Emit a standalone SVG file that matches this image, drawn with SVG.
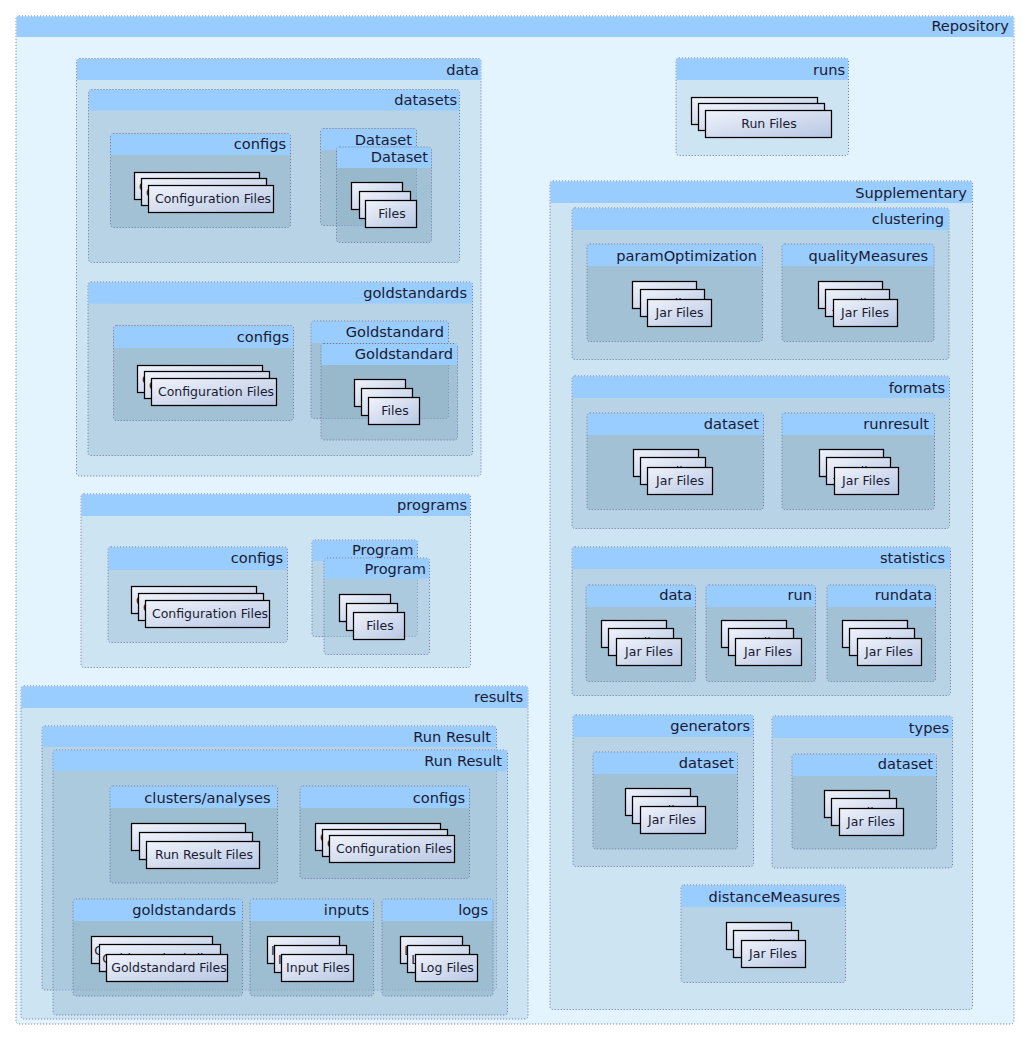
<svg xmlns="http://www.w3.org/2000/svg" width="1030" height="1040" viewBox="0 0 1030 1040">
<style>
.b{fill-opacity:.5;stroke:#6f6fa3;stroke-width:1;stroke-dasharray:1 2}
.r{fill:#e3f4ff;fill-opacity:1}
.d2{fill:#b7d4e7}
.d3{fill:#a1c2d7}
.d4{fill:#8dafc3}
.h{fill:#99ccff}
.l{font:14.6px "DejaVu Sans",sans-serif;fill:#1a1a30;text-anchor:end}
.a{fill:url(#g);stroke:#000;stroke-width:1.25}
.t{font:12.5px "DejaVu Sans",sans-serif;fill:#1a1a30;text-anchor:middle}
</style>
<defs><linearGradient id="g" x1="0" y1="0" x2="1" y2="1"><stop offset="0" stop-color="#f0f3fb"/><stop offset="1" stop-color="#b7c7e3"/></linearGradient></defs>
<rect width="1030" height="1040" fill="#fff"/>
<g id="Repository"><rect class="b r" x="16" y="16" width="998" height="1008" rx="3"/><rect class="h" x="16.5" y="16.5" width="997" height="20.5"/><text class="l" x="1009" y="31">Repository</text></g>

<g id="data"><rect class="b d2" x="76.5" y="58.5" width="404.5" height="417.5" rx="3"/><rect class="h" x="77" y="59" width="403.5" height="21"/><text class="l" x="479" y="75">data</text></g>
<g id="datasets"><rect class="b d3" x="88.5" y="89.5" width="371" height="173" rx="3"/><rect class="h" x="89" y="90" width="370" height="20.5"/><text class="l" x="457" y="105">datasets</text></g>
<g id="datasets-configs"><rect class="b d4" x="110.5" y="133.5" width="180" height="94" rx="3"/><rect class="h" x="111" y="134" width="179" height="21"/><text class="l" x="286" y="148.5">configs</text></g>
<g id="datasets-config-files">
<rect class="a" x="134.5" y="172.5" width="125" height="27"/><text class="t" x="197" y="190.5">Configuration Files</text>
<rect class="a" x="141.5" y="178.5" width="125" height="27"/><text class="t" x="204" y="196.5">Configuration Files</text>
<rect class="a" x="148.5" y="185.5" width="125" height="27"/><text class="t" x="213" y="203">Configuration Files</text></g>
<g id="dataset-back"><rect class="b d4" x="320.5" y="128.5" width="96" height="97" rx="3"/><rect class="h" x="321" y="129" width="95" height="21"/><text class="l" x="412" y="145">Dataset</text></g>
<g id="dataset-front"><rect class="b d4" x="336.5" y="147" width="95" height="95.5" rx="3"/><rect class="h" x="337" y="147.5" width="94" height="20.5"/><text class="l" x="428" y="162">Dataset</text></g>
<g id="dataset-files">
<rect class="a" x="351.5" y="182.5" width="51" height="27"/><text class="t" x="377" y="200.5">Files</text>
<rect class="a" x="359.5" y="191.5" width="51" height="27"/><text class="t" x="385" y="209.5">Files</text>
<rect class="a" x="365.5" y="200.5" width="51" height="27"/><text class="t" x="392" y="218">Files</text></g>

<g id="goldstandards"><rect class="b d3" x="88" y="282" width="384.5" height="173.5" rx="3"/><rect class="h" x="88.5" y="282.5" width="383.5" height="21"/><text class="l" x="467" y="298">goldstandards</text></g>
<g id="goldstandards-configs"><rect class="b d4" x="113.5" y="325.5" width="180" height="95" rx="3"/><rect class="h" x="114" y="326" width="179" height="22"/><text class="l" x="289" y="342">configs</text></g>
<g id="goldstandards-config-files">
<rect class="a" x="137.5" y="365.5" width="125" height="27"/><text class="t" x="200" y="383.5">Configuration Files</text>
<rect class="a" x="144.5" y="371.5" width="125" height="27"/><text class="t" x="207" y="389.5">Configuration Files</text>
<rect class="a" x="151.5" y="378.5" width="125" height="27"/><text class="t" x="216" y="396">Configuration Files</text></g>
<g id="goldstandard-back"><rect class="b d4" x="311" y="321" width="137.5" height="97.5" rx="3"/><rect class="h" x="311.5" y="321.5" width="136.5" height="21.5"/><text class="l" x="444" y="337">Goldstandard</text></g>
<g id="goldstandard-front"><rect class="b d4" x="321" y="343.5" width="136.5" height="96.5" rx="3"/><rect class="h" x="321.5" y="344" width="135.5" height="21"/><text class="l" x="453" y="359">Goldstandard</text></g>
<g id="goldstandard-files-stack">
<rect class="a" x="354.5" y="379.5" width="51" height="27"/><text class="t" x="380" y="397.5">Files</text>
<rect class="a" x="361.5" y="388.5" width="51" height="27"/><text class="t" x="387" y="406.5">Files</text>
<rect class="a" x="368.5" y="397.5" width="51" height="27"/><text class="t" x="395" y="415">Files</text></g>

<g id="programs"><rect class="b d2" x="81" y="494" width="389.5" height="173.5" rx="3"/><rect class="h" x="81.5" y="494.5" width="388.5" height="21.5"/><text class="l" x="467" y="510">programs</text></g>
<g id="programs-configs"><rect class="b d3" x="108" y="547" width="179.5" height="95.5" rx="3"/><rect class="h" x="108.5" y="547.5" width="178.5" height="22.5"/><text class="l" x="283" y="563">configs</text></g>
<g id="programs-config-files">
<rect class="a" x="131.5" y="586.5" width="125" height="27"/><text class="t" x="194" y="604.5">Configuration Files</text>
<rect class="a" x="138.5" y="593.5" width="125" height="27"/><text class="t" x="201" y="611.5">Configuration Files</text>
<rect class="a" x="145.5" y="600.5" width="124" height="27"/><text class="t" x="210" y="618">Configuration Files</text></g>
<g id="program-back"><rect class="b d3" x="312" y="540" width="105.5" height="96.5" rx="3"/><rect class="h" x="312.5" y="540.5" width="104.5" height="20.5"/><text class="l" x="413.5" y="555">Program</text></g>
<g id="program-front"><rect class="b d3" x="324" y="558" width="105.5" height="96.5" rx="3"/><rect class="h" x="324.5" y="558.5" width="104.5" height="20"/><text class="l" x="426" y="573.5">Program</text></g>
<g id="program-files">
<rect class="a" x="339.5" y="594.5" width="51" height="27"/><text class="t" x="365" y="612.5">Files</text>
<rect class="a" x="346.5" y="603.5" width="51" height="27"/><text class="t" x="372" y="621.5">Files</text>
<rect class="a" x="353.5" y="612.5" width="51" height="27"/><text class="t" x="380" y="630">Files</text></g>

<g id="results"><rect class="b d2" x="21" y="686" width="507" height="333" rx="3"/><rect class="h" x="21.5" y="686.5" width="506" height="21.5"/><text class="l" x="523" y="702">results</text></g>
<g id="run-result-back"><rect class="b d3" x="42" y="726" width="454.5" height="264" rx="3"/><rect class="h" x="42.5" y="726.5" width="453.5" height="20.5"/><text class="l" x="491" y="742">Run Result</text></g>
<g id="run-result-front"><rect class="b d3" x="53" y="750" width="454.5" height="265" rx="3"/><rect class="h" x="53.5" y="750.5" width="453.5" height="20.5"/><text class="l" x="502" y="766">Run Result</text></g>
<g id="clusters-analyses"><rect class="b d4" x="110" y="786" width="167.5" height="97" rx="3"/><rect class="h" x="110.5" y="786.5" width="166.5" height="21.5"/><text class="l" x="270.5" y="803">clusters/analyses</text></g>
<g id="run-result-files">
<rect class="a" x="131.5" y="823.5" width="114" height="27"/><text class="t" x="188" y="841.5">Run Result Files</text>
<rect class="a" x="139.5" y="832.5" width="113" height="27"/><text class="t" x="196" y="850.5">Run Result Files</text>
<rect class="a" x="146.5" y="841.5" width="113" height="27"/><text class="t" x="204" y="859">Run Result Files</text></g>
<g id="results-configs"><rect class="b d4" x="300" y="786" width="169.5" height="92.5" rx="3"/><rect class="h" x="300.5" y="786.5" width="168.5" height="21.5"/><text class="l" x="465" y="803">configs</text></g>
<g id="results-config-files">
<rect class="a" x="315.5" y="823.5" width="125" height="27"/><text class="t" x="378" y="841.5">Configuration Files</text>
<rect class="a" x="322.5" y="829.5" width="125" height="27"/><text class="t" x="385" y="847.5">Configuration Files</text>
<rect class="a" x="329.5" y="835.5" width="125" height="27"/><text class="t" x="394" y="853">Configuration Files</text></g>
<g id="results-goldstandards"><rect class="b d4" x="73" y="899" width="169.5" height="97" rx="3"/><rect class="h" x="73.5" y="899.5" width="168.5" height="21.5"/><text class="l" x="236" y="915">goldstandards</text></g>
<g id="goldstandard-files">
<rect class="a" x="91.5" y="936.5" width="121" height="27"/><text class="t" x="152" y="954.5">Goldstandard Files</text>
<rect class="a" x="99.5" y="944.5" width="121" height="27"/><text class="t" x="160" y="962.5">Goldstandard Files</text>
<rect class="a" x="106.5" y="954.5" width="121" height="27"/><text class="t" x="169" y="972">Goldstandard Files</text></g>
<g id="inputs"><rect class="b d4" x="250" y="899" width="123.5" height="97" rx="3"/><rect class="h" x="250.5" y="899.5" width="122.5" height="21.5"/><text class="l" x="369" y="915">inputs</text></g>
<g id="input-files">
<rect class="a" x="267.5" y="936.5" width="72" height="27"/><text class="t" x="303" y="954.5">Input Files</text>
<rect class="a" x="274.5" y="945.5" width="72" height="27"/><text class="t" x="310" y="963.5">Input Files</text>
<rect class="a" x="281.5" y="954.5" width="72" height="27"/><text class="t" x="318" y="972">Input Files</text></g>
<g id="logs"><rect class="b d4" x="382" y="899" width="111" height="97" rx="3"/><rect class="h" x="382.5" y="899.5" width="110" height="21.5"/><text class="l" x="488" y="915">logs</text></g>
<g id="log-files">
<rect class="a" x="400.5" y="936.5" width="62" height="27"/><text class="t" x="431" y="954.5">Log Files</text>
<rect class="a" x="407.5" y="945.5" width="62" height="27"/><text class="t" x="438" y="963.5">Log Files</text>
<rect class="a" x="415.5" y="954.5" width="62" height="27"/><text class="t" x="447" y="972">Log Files</text></g>

<g id="runs"><rect class="b d2" x="676" y="58" width="172.5" height="97.5" rx="3"/><rect class="h" x="676.5" y="58.5" width="171.5" height="21.5"/><text class="l" x="845" y="75">runs</text></g>
<g id="run-files">
<rect class="a" x="691.5" y="97.5" width="126" height="27"/><text class="t" x="754" y="115.5">Run Files</text>
<rect class="a" x="698.5" y="103.5" width="126" height="27"/><text class="t" x="761" y="121.5">Run Files</text>
<rect class="a" x="705.5" y="110.5" width="126" height="27"/><text class="t" x="769" y="128">Run Files</text></g>

<g id="Supplementary"><rect class="b d2" x="550" y="181" width="422.5" height="828.5" rx="3"/><rect class="h" x="550.5" y="181.5" width="421.5" height="21.5"/><text class="l" x="967" y="198">Supplementary</text></g>
<g id="clustering"><rect class="b d3" x="572" y="208" width="377" height="151.5" rx="3"/><rect class="h" x="572.5" y="208.5" width="376" height="21.5"/><text class="l" x="944" y="224">clustering</text></g>
<g id="paramOptimization"><rect class="b d4" x="587" y="244" width="175.5" height="97.5" rx="3"/><rect class="h" x="587.5" y="244.5" width="174.5" height="21.5"/><text class="l" x="757" y="261">paramOptimization</text></g>
<g id="paramOptimization-files">
<rect class="a" x="632.5" y="281.5" width="64" height="27"/><text class="t" x="665" y="299.5">Jar Files</text>
<rect class="a" x="640.5" y="289.5" width="64" height="27"/><text class="t" x="672" y="307.5">Jar Files</text>
<rect class="a" x="647.5" y="299.5" width="64" height="27"/><text class="t" x="679.5" y="317">Jar Files</text></g>
<g id="qualityMeasures"><rect class="b d4" x="782" y="244" width="152" height="97.5" rx="3"/><rect class="h" x="782.5" y="244.5" width="151" height="21.5"/><text class="l" x="928" y="261">qualityMeasures</text></g>
<g id="qualityMeasures-files">
<rect class="a" x="818.5" y="281.5" width="64" height="27"/><text class="t" x="850" y="299.5">Jar Files</text>
<rect class="a" x="825.5" y="289.5" width="64" height="27"/><text class="t" x="857" y="307.5">Jar Files</text>
<rect class="a" x="833.5" y="299.5" width="64" height="27"/><text class="t" x="865" y="317">Jar Files</text></g>

<g id="formats"><rect class="b d3" x="572" y="376" width="377.5" height="152.5" rx="3"/><rect class="h" x="572.5" y="376.5" width="376.5" height="21.5"/><text class="l" x="945" y="393">formats</text></g>
<g id="formats-dataset"><rect class="b d4" x="587" y="413" width="176.5" height="96.5" rx="3"/><rect class="h" x="587.5" y="413.5" width="175.5" height="21.5"/><text class="l" x="759" y="429">dataset</text></g>
<g id="formats-dataset-files">
<rect class="a" x="633.5" y="449.5" width="65" height="27"/><text class="t" x="666" y="467.5">Jar Files</text>
<rect class="a" x="640.5" y="457.5" width="65" height="27"/><text class="t" x="673" y="475.5">Jar Files</text>
<rect class="a" x="647.5" y="467.5" width="65" height="27"/><text class="t" x="680" y="485">Jar Files</text></g>
<g id="runresult"><rect class="b d4" x="782" y="413" width="152.5" height="96.5" rx="3"/><rect class="h" x="782.5" y="413.5" width="151.5" height="21.5"/><text class="l" x="929" y="429">runresult</text></g>
<g id="runresult-files">
<rect class="a" x="819.5" y="449.5" width="64" height="27"/><text class="t" x="851" y="467.5">Jar Files</text>
<rect class="a" x="826.5" y="457.5" width="64" height="27"/><text class="t" x="858" y="475.5">Jar Files</text>
<rect class="a" x="834.5" y="467.5" width="64" height="27"/><text class="t" x="866" y="485">Jar Files</text></g>

<g id="statistics"><rect class="b d3" x="572" y="547" width="378.5" height="148.5" rx="3"/><rect class="h" x="572.5" y="547.5" width="377.5" height="21.5"/><text class="l" x="945" y="563">statistics</text></g>
<g id="statistics-data"><rect class="b d4" x="586" y="585" width="109.5" height="96.5" rx="3"/><rect class="h" x="586.5" y="585.5" width="108.5" height="21.5"/><text class="l" x="692" y="600">data</text></g>
<g id="statistics-data-files">
<rect class="a" x="601.5" y="620.5" width="65" height="27"/><text class="t" x="634" y="638.5">Jar Files</text>
<rect class="a" x="608.5" y="628.5" width="65" height="27"/><text class="t" x="641" y="646.5">Jar Files</text>
<rect class="a" x="616.5" y="638.5" width="65" height="27"/><text class="t" x="649" y="656">Jar Files</text></g>
<g id="statistics-run"><rect class="b d4" x="706" y="585" width="109.5" height="96.5" rx="3"/><rect class="h" x="706.5" y="585.5" width="108.5" height="21.5"/><text class="l" x="812" y="600">run</text></g>
<g id="statistics-run-files">
<rect class="a" x="721.5" y="620.5" width="65" height="27"/><text class="t" x="754" y="638.5">Jar Files</text>
<rect class="a" x="728.5" y="628.5" width="65" height="27"/><text class="t" x="761" y="646.5">Jar Files</text>
<rect class="a" x="735.5" y="638.5" width="66" height="27"/><text class="t" x="768" y="656">Jar Files</text></g>
<g id="statistics-rundata"><rect class="b d4" x="827" y="585" width="108.5" height="96.5" rx="3"/><rect class="h" x="827.5" y="585.5" width="107.5" height="21.5"/><text class="l" x="932" y="600">rundata</text></g>
<g id="statistics-rundata-files">
<rect class="a" x="842.5" y="620.5" width="65" height="27"/><text class="t" x="875" y="638.5">Jar Files</text>
<rect class="a" x="849.5" y="628.5" width="65" height="27"/><text class="t" x="882" y="646.5">Jar Files</text>
<rect class="a" x="857.5" y="638.5" width="64" height="27"/><text class="t" x="889" y="656">Jar Files</text></g>

<g id="generators"><rect class="b d3" x="573" y="715" width="180.5" height="151.5" rx="3"/><rect class="h" x="573.5" y="715.5" width="179.5" height="21.5"/><text class="l" x="750" y="731">generators</text></g>
<g id="generators-dataset"><rect class="b d4" x="593" y="752" width="144.5" height="97" rx="3"/><rect class="h" x="593.5" y="752.5" width="143.5" height="21.5"/><text class="l" x="734" y="768">dataset</text></g>
<g id="generators-dataset-files">
<rect class="a" x="625.5" y="788.5" width="65" height="27"/><text class="t" x="658" y="806.5">Jar Files</text>
<rect class="a" x="632.5" y="796.5" width="65" height="27"/><text class="t" x="665" y="814.5">Jar Files</text>
<rect class="a" x="640.5" y="806.5" width="65" height="27"/><text class="t" x="672" y="824">Jar Files</text></g>
<g id="types"><rect class="b d3" x="772" y="716" width="180.5" height="152" rx="3"/><rect class="h" x="772.5" y="716.5" width="179.5" height="21.5"/><text class="l" x="949" y="733">types</text></g>
<g id="types-dataset"><rect class="b d4" x="792" y="754" width="144.5" height="95" rx="3"/><rect class="h" x="792.5" y="754.5" width="143.5" height="21.5"/><text class="l" x="933" y="769">dataset</text></g>
<g id="types-dataset-files">
<rect class="a" x="824.5" y="790.5" width="65" height="27"/><text class="t" x="857" y="808.5">Jar Files</text>
<rect class="a" x="831.5" y="798.5" width="65" height="27"/><text class="t" x="864" y="816.5">Jar Files</text>
<rect class="a" x="839.5" y="808.5" width="64" height="27"/><text class="t" x="871" y="826">Jar Files</text></g>
<g id="distanceMeasures"><rect class="b d3" x="681" y="885" width="164.5" height="97.5" rx="3"/><rect class="h" x="681.5" y="885.5" width="163.5" height="21.5"/><text class="l" x="840" y="902">distanceMeasures</text></g>
<g id="distanceMeasures-files">
<rect class="a" x="726.5" y="922.5" width="65" height="27"/><text class="t" x="759" y="940.5">Jar Files</text>
<rect class="a" x="733.5" y="930.5" width="65" height="27"/><text class="t" x="766" y="948.5">Jar Files</text>
<rect class="a" x="741.5" y="940.5" width="64" height="27"/><text class="t" x="773" y="958">Jar Files</text></g>
</svg>
